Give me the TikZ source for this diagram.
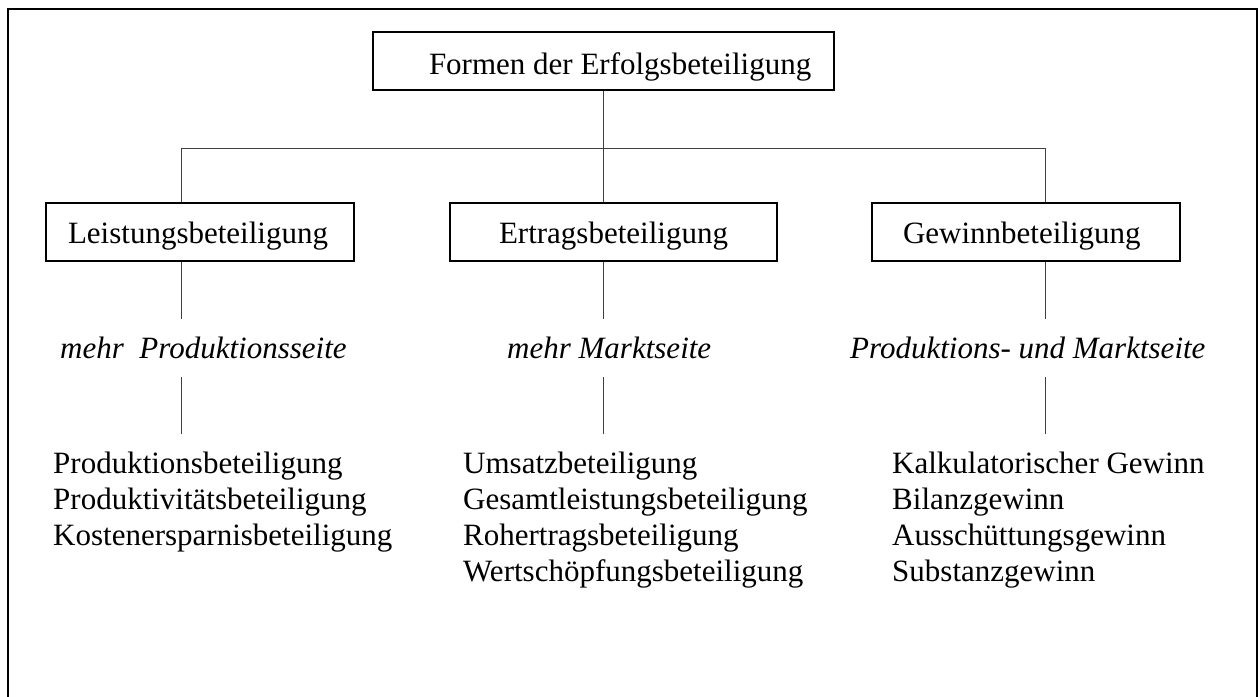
\documentclass[tikz,border=0pt]{standalone}
\usepackage{fontspec}
\setmainfont{Liberation Serif}
\begin{document}
\begin{tikzpicture}[x=1pt,y=-1pt,
  every node/.style={font=\fontsize{31}{36}\selectfont},
  frame/.style={draw=black, line width=2.5pt},
  boxnode/.style={draw=black, line width=1.2pt, inner xsep=0pt, inner ysep=0pt,
     minimum height=58pt, text height=22pt, text depth=0pt},
  conn/.style={draw=black!75, line width=1pt},
  sidelabel/.style={font=\fontsize{31}{36}\selectfont\itshape, anchor=base west,
     inner xsep=0pt, inner ysep=19pt, text height=20pt, text depth=0pt},
  listnode/.style={anchor=base west, inner xsep=0pt, inner ysep=14pt}
]
\useasboundingbox (0,0) rectangle (1260,696);
\draw[frame] (8,710) -- (8,9) -- (1257,9) -- (1257,710);

% top box
\node[boxnode, text height=26pt, minimum width=461pt] (top) at (603.5,61)
  {\hspace*{56pt}\makebox[349pt][l]{Formen der Erfolgsbeteiligung}\hspace*{56pt}};

% second level boxes
\node[boxnode, minimum width=308pt] (L) at (200,232)
  {\hspace*{22pt}\makebox[264pt][l]{Leistungsbeteiligung}\hspace*{22pt}};
\node[boxnode, minimum width=327pt] (E) at (613.5,232)
  {\hspace*{49pt}\makebox[229pt][l]{Ertragsbeteiligung}\hspace*{49pt}};
\node[boxnode, minimum width=308pt] (G) at (1026,232)
  {\hspace*{31pt}\makebox[246pt][l]{Gewinnbeteiligung}\hspace*{31pt}};

% branch coordinates
\coordinate (b1) at (181,148);
\coordinate (b2) at (603,148);
\coordinate (b3) at (1045,148);

% italic labels
\node[sidelabel] (mL) at (60,358) {mehr\ \ Produktionsseite};
\node[sidelabel] (mE) at (507,358) {mehr Marktseite};
\node[sidelabel] (mG) at (850,358) {Produktions- und Marktseite};

% lists
\node[listnode] (lL) at (53,473) {\begin{tabular}[t]{@{}l@{}}
Produktionsbeteiligung\\
Produktivitätsbeteiligung\\
Kostenersparnisbeteiligung
\end{tabular}};
\node[listnode] (lE) at (463,473) {\begin{tabular}[t]{@{}l@{}}
Umsatzbeteiligung\\
Gesamtleistungsbeteiligung\\
Rohertragsbeteiligung\\
Wertschöpfungsbeteiligung
\end{tabular}};
\node[listnode] (lG) at (892,473) {\begin{tabular}[t]{@{}l@{}}
Kalkulatorischer Gewinn\\
Bilanzgewinn\\
Ausschüttungsgewinn\\
Substanzgewinn
\end{tabular}};

% connectors
\draw[conn] (top.south -| b2) -- (b2);
\draw[conn] (b1) -- (b3);
\draw[conn] (b1) -- (b1 |- L.north);
\draw[conn] (b2) -- (b2 |- E.north);
\draw[conn] (b3) -- (b3 |- G.north);

\draw[conn] (b1 |- L.south) -- (b1 |- mL.north);
\draw[conn] (b2 |- E.south) -- (b2 |- mE.north);
\draw[conn] (b3 |- G.south) -- (b3 |- mG.north);

\draw[conn] (b1 |- mL.south) -- (b1 |- lL.north);
\draw[conn] (b2 |- mE.south) -- (b2 |- lE.north);
\draw[conn] (b3 |- mG.south) -- (b3 |- lG.north);
\end{tikzpicture}
\end{document}
